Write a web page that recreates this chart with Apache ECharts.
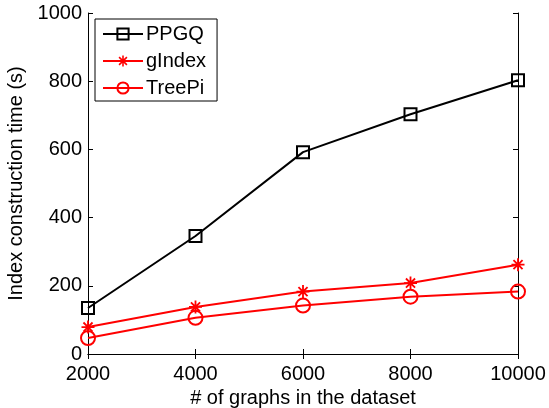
<!DOCTYPE html>
<html><head><meta charset="utf-8">
<script src="https://cdn.jsdelivr.net/npm/echarts@6/dist/echarts.min.js"></script>
<style>html,body{margin:0;padding:0;background:#fff}#c{width:549px;height:408px}</style>
</head><body><div id="c"></div>
<script>
const xValues = [2000, 4000, 6000, 8000, 10000];
const ppgq = [135, 346, 592, 703, 803];
const gindex = [79, 138, 183, 208, 262];
const treepi = [47, 106, 142, 168, 183];
const seriesNames = ['PPGQ', 'gIndex', 'TreePi'];
const xTicks = [2000, 4000, 6000, 8000, 10000];
const yTicks = [0, 200, 400, 600, 800, 1000];

const FONT = '"Liberation Sans", Arial, sans-serif';
const FS = 20;
const asterisk = 'path://M8.6 0h2.8v20h-2.8z M0 8.6h20v2.8h-20z M2 4L4 2L18 16L16 18Z M16 2L18 4L4 18L2 16Z';

const chart = echarts.init(document.getElementById('c'), null, {renderer: 'canvas'});
function pairs(arr){ return xValues.map((x,i)=>[x, arr[i]]); }
const axisCommon = {
  axisLine: {show: true, lineStyle: {color: '#000', width: 1}},
  axisTick: {show: true, inside: true, length: 5, lineStyle: {color: '#000'}},
  splitLine: {show: false}
};
chart.setOption({
  animation: false,
  backgroundColor: '#fff',
  textStyle: {fontFamily: FONT},
  grid: {left: 88, right: 31, top: 13, bottom: 54, containLabel: false, outerBoundsMode: 'none'},
  legend: {
    left: 95, top: 19, orient: 'vertical',
    itemWidth: 40, itemHeight: 14, itemGap: 7,
    padding: [5, 11, 3, 7],
    borderColor: '#000', borderWidth: 1, backgroundColor: '#fff',
    textStyle: {fontFamily: FONT, fontSize: FS, color: '#000', padding: [0,0,0,-2]},
    data: seriesNames
  },
  xAxis: [
    Object.assign({type: 'value', min: 2000, max: 10000, interval: 2000,
      axisLabel: {color: '#000', fontSize: FS, fontFamily: FONT, margin: 10,
        formatter: v => String(v)},
      name: '# of graphs in the dataset', nameLocation: 'middle', nameGap: 31,
      nameTextStyle: {color: '#000', fontSize: FS, fontFamily: FONT}}, axisCommon),
    Object.assign({type: 'value', min: 2000, max: 10000, interval: 2000, position: 'top',
      axisLabel: {show: false}}, axisCommon)
  ],
  yAxis: [
    Object.assign({type: 'value', min: 0, max: 1000, interval: 200,
      axisLabel: {color: '#000', fontSize: FS, fontFamily: FONT, margin: 6,
        formatter: v => String(v)},
      name: 'Index construction time (s)', nameLocation: 'middle', nameGap: 51,
      nameTextStyle: {color: '#000', fontSize: FS, fontFamily: FONT}}, axisCommon),
    Object.assign({type: 'value', min: 0, max: 1000, interval: 200, position: 'right',
      axisLabel: {show: false}}, axisCommon)
  ],
  series: [
    {name: 'PPGQ', type: 'line', data: pairs(ppgq), symbol: 'rect', symbolSize: 12,
      lineStyle: {color: '#000', width: 2},
      itemStyle: {color: 'rgba(0,0,0,0)', borderColor: '#000', borderWidth: 2}, z: 3},
    {name: 'gIndex', type: 'line', data: pairs(gindex), symbol: asterisk, symbolSize: 13,
      lineStyle: {color: '#ff0000', width: 2},
      itemStyle: {color: '#ff0000'}, z: 2},
    {name: 'TreePi', type: 'line', data: pairs(treepi), symbol: 'circle', symbolSize: 14,
      lineStyle: {color: '#ff0000', width: 2},
      itemStyle: {color: 'rgba(0,0,0,0)', borderColor: '#ff0000', borderWidth: 2}, z: 2}
  ]
});
</script></body></html>
